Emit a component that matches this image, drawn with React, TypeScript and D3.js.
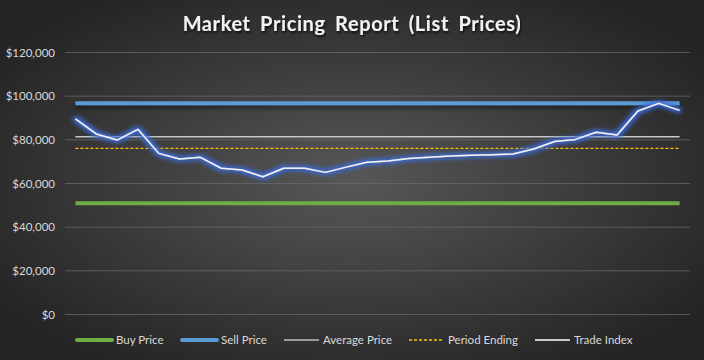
import React from "react";
import * as d3 from "d3";

const periods: string[] = Array.from({ length: 30 }, (_, i) => `P${i + 1}`);
const tradeIndex: number[] = [
  89600, 82700, 79900, 84800, 73800, 71200, 72000, 67000, 66200, 63100,
  67000, 67000, 65100, 67500, 69700, 70300, 71500, 72000, 72600, 72900,
  73200, 73500, 75800, 79200, 80200, 83500, 82200, 93200, 96700, 93500,
];
const buyPrice = 50900;
const sellPrice = 96750;
const averagePrice = 81400;
const periodEnding = 76100;
const yTicks: number[] = [0, 20000, 40000, 60000, 80000, 100000, 120000];
const legendItems: string[] = ["Buy Price", "Sell Price", "Average Price", "Period Ending", "Trade Index"];

const W = 704;
const H = 360;
const M = { left: 65, right: 14, top: 52.5, bottom: 45.5 };

export default function App() {
  const x = d3.scaleBand<string>().domain(periods).range([M.left, W - M.right]);
  const y = d3.scaleLinear().domain([0, 120000]).range([H - M.bottom, M.top]);
  const cx = (p: string) => (x(p) as number) + x.bandwidth() / 2;
  const x0 = cx(periods[0]);
  const x1 = cx(periods[periods.length - 1]);
  const line = d3
    .line<number>()
    .x((_, i) => cx(periods[i]))
    .y((d) => y(d));
  const font = "Lato, 'Open Sans', sans-serif";
  const fmt = (v: number) => "$" + d3.format(",")(v);

  const legendX = [77, 182, 284, 409, 535];
  const legendY = 340;

  const hline = (v: number) => `M${x0},${y(v)}L${x1},${y(v)}`;

  return (
    <svg width={W} height={H} style={{ position: "absolute", left: 0, top: 0 }}>
      <defs>
        <radialGradient id="bg" cx="50%" cy="50%" r="60%">
          <stop offset="0%" stopColor="#575757" />
          <stop offset="100%" stopColor="#252525" />
        </radialGradient>
        <filter id="glow" filterUnits="userSpaceOnUse" x={0} y={0} width={W} height={H}>
          <feMorphology in="SourceAlpha" operator="dilate" radius="2.2" result="d" />
          <feGaussianBlur in="d" stdDeviation="2" result="b" />
          <feFlood floodColor="#3a6ad8" floodOpacity="1" />
          <feComposite in2="b" operator="in" result="g" />
          <feMerge>
            <feMergeNode in="g" />
            <feMergeNode in="SourceGraphic" />
          </feMerge>
        </filter>
        <filter id="shadow" filterUnits="userSpaceOnUse" x={0} y={0} width={W} height={H}>
          <feGaussianBlur in="SourceAlpha" stdDeviation="2" result="b" />
          <feOffset in="b" dy="3" result="o" />
          <feFlood floodColor="#000" floodOpacity="0.5" />
          <feComposite in2="o" operator="in" result="s" />
          <feMerge>
            <feMergeNode in="s" />
            <feMergeNode in="SourceGraphic" />
          </feMerge>
        </filter>
        <filter id="tshadow" filterUnits="userSpaceOnUse" x={0} y={0} width={W} height={60}>
          <feGaussianBlur in="SourceAlpha" stdDeviation="0.8" result="b" />
          <feOffset in="b" dx="1" dy="1.5" result="o" />
          <feFlood floodColor="#000" floodOpacity="0.7" />
          <feComposite in2="o" operator="in" result="s" />
          <feMerge>
            <feMergeNode in="s" />
            <feMergeNode in="SourceGraphic" />
          </feMerge>
        </filter>
      </defs>
      <rect x={0} y={0} width={W} height={H} fill="url(#bg)" />

      <text
        x={352}
        y={31}
        textAnchor="middle"
        fill="#f2f2f2"
        fontFamily={font}
        fontWeight={700}
        fontSize={20}
        letterSpacing={0.6}
        wordSpacing={4}
        filter="url(#tshadow)"
      >
        Market Pricing Report (List Prices)
      </text>

      {yTicks.map((t) => (
        <g key={t}>
          <line x1={M.left} x2={W - M.right} y1={y(t)} y2={y(t)} stroke="#6a6a6a" strokeWidth={1} opacity={0.75} />
          <text x={55} y={y(t)} dy="0.35em" textAnchor="end" fill="#d9d9d9" fontFamily={font} fontSize={11.5}>
            {fmt(t)}
          </text>
        </g>
      ))}

      <path d={hline(buyPrice)} stroke="#70ad47" strokeWidth={4} fill="none" />
      <path d={hline(sellPrice)} stroke="#5b9bd5" strokeWidth={4} fill="none" filter="url(#shadow)" />
      <path d={hline(averagePrice)} stroke="#c8c8c8" strokeWidth={1.5} fill="none" />
      <path d={hline(periodEnding)} stroke="#ffc000" strokeWidth={1.3} strokeDasharray="3,2" fill="none" />
      <path d={line(tradeIndex) as string} stroke="#f2f2f2" strokeWidth={1.5} fill="none" strokeLinejoin="round" filter="url(#glow)" />

      {legendItems.map((name, i) => {
        const lx = legendX[i];
        const stroke = ["#70ad47", "#5b9bd5", "#bfbfbf", "#ffc000", "#ffffff"][i];
        const sw = [4, 4, 1.3, 1.3, 1.5][i];
        return (
          <g key={name}>
            <line
              x1={lx}
              x2={lx + 35}
              y1={legendY}
              y2={legendY}
              stroke={stroke}
              strokeWidth={sw}
              strokeLinecap={sw > 2 ? "round" : "butt"}
              strokeDasharray={i === 3 ? "3,2" : undefined}
            />
            <text x={lx + 39} y={legendY} dy="0.35em" fill="#d9d9d9" fontFamily={font} fontSize={11.5}>
              {name}
            </text>
          </g>
        );
      })}
    </svg>
  );
}
